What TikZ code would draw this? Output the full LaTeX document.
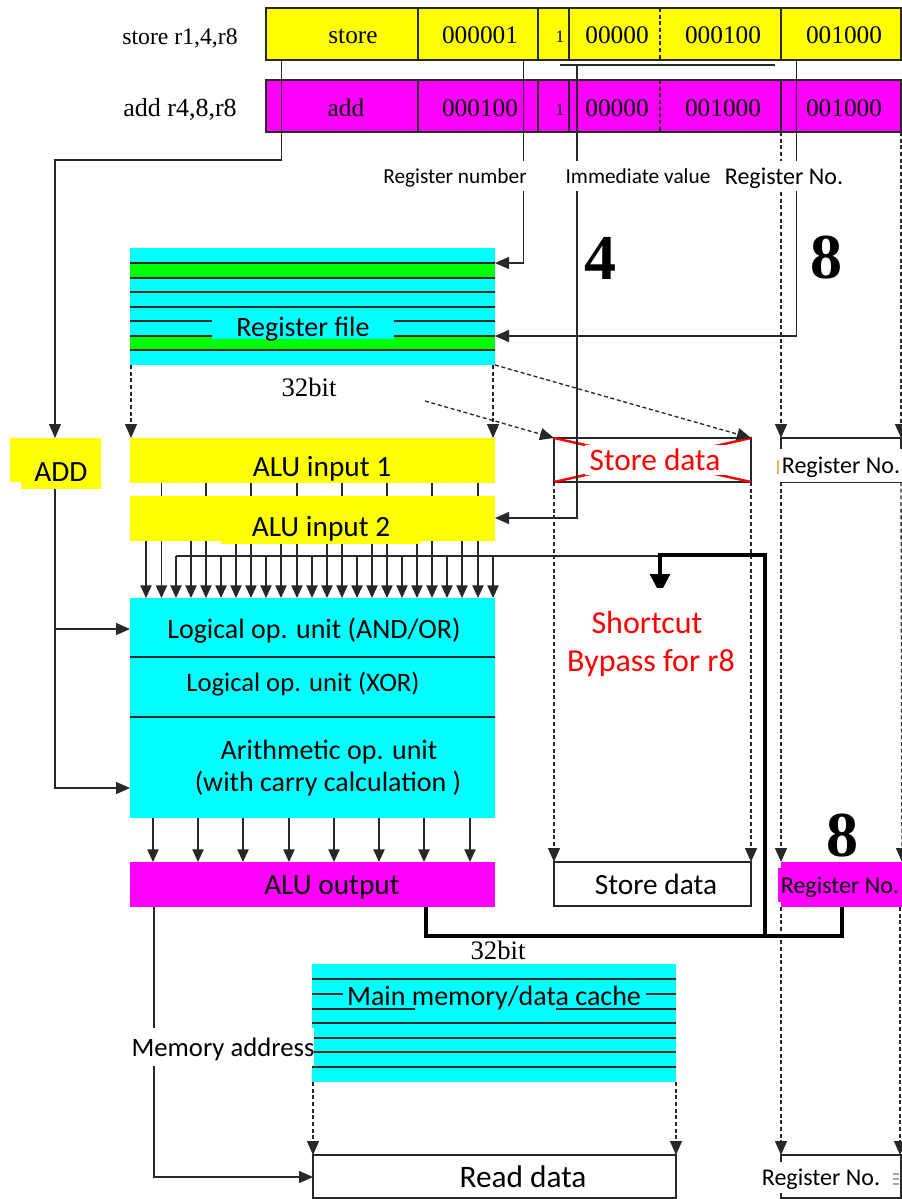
\documentclass[tikz,border=0pt]{standalone}
\usepackage{fontspec}
\setmainfont{Liberation Serif}
\newfontfamily\lblfont{Carlito}
\usetikzlibrary{arrows.meta, positioning}
\definecolor{DG}{RGB}{40,40,40}
\definecolor{CY}{RGB}{0,255,255}
\definecolor{GN}{RGB}{0,255,0}
\definecolor{YL}{RGB}{255,255,0}
\definecolor{MG}{RGB}{255,0,255}
\definecolor{RD}{RGB}{255,0,0}
\begin{document}
\begin{tikzpicture}[x=0.75pt, y=-0.75pt,
  pxbox/.style 2 args={minimum width=#1*0.75pt, minimum height=#2*0.75pt,
               inner sep=0pt, outer sep=0pt, anchor=north west},
  field/.style={draw=DG, line width=0.9pt},
  flagtxt/.style={font=\fontsize{13}{15}\selectfont, inner sep=0pt},
  serif/.style={font=\fontsize{#1}{#1}\selectfont, inner sep=0pt,
               text height=\dimexpr#1pt*53/100\relax, text depth=0pt},
  serif/.default=19,
  bigdigit/.style={font=\bfseries\fontsize{48}{50}\selectfont, inner sep=0pt},
  lbl/.style={font=\lblfont\fontsize{#1}{#1}\selectfont, inner sep=0pt,
               text height=\dimexpr#1pt*78/100\relax, text depth=\dimexpr#1pt*10/100\relax},
  lbl/.default=21,
  wire/.style={draw=DG, line width=1pt},
  arr/.style={wire, -{Triangle[length=10.5pt,width=9pt]}},
  busarr/.style={wire, -{Triangle[length=9.5pt,width=8.5pt]}},
  dasharr/.style={arr, dash pattern=on 3pt off 2pt},
  fatwire/.style={draw=black, line width=3.6pt}
]
\useasboundingbox (0,0) rectangle (902,1199);

% Instruction rows
\foreach \r/\col/\y in {st/YL/8,ad/MG/80}
  \foreach \n/\x/\w in {Op/266/152,Rs/418/120,Flag/538/31,Imm/569/212,Rd/781/120}
    { \node[pxbox={\w}{52}, field, fill=\col] (\r\n) at (\x,\y) {}; }
\node[serif=17.8] (stName) at (180,38) {store r1,4,r8};
\node[serif=19.5] (adName) at (180,110) {add r4,8,r8};
\foreach \r/\y/\a/\b/\c/\d in {st/37/store/000001/000100/001000,ad/110/add/000100/001000/001000}{
  \node[serif] (\r TxtOp) at (\ifnum\y=37 353\else 346\fi,\y) {\a};
  \node[serif] (\r TxtRs) at (480,\y) {\b};
  \node[flagtxt] (\r TxtFlag) at (560,\y) {1};
  \node[serif] (\r TxtA) at (617,\y) {00000};
  \node[serif] (\r TxtB) at (723,\y) {\c};
  \node[serif] (\r TxtRd) at (844,\y) {\d};
  \draw[wire, densely dashed] (\r Imm.north -| 660,0) -- (\r Imm.south -| 660,0);
}

% Register file
\node[pxbox={365}{117}, fill=CY] (regFile) at (130,248) {};
\foreach \y in {263,336} { \node[pxbox={365}{14}, fill=GN] (regG\y) at (130,\y) {}; }
\foreach \y in {263,278,292,307,321,336,350}
  { \draw[wire] (regFile.west |- 0,\y) -- (regFile.east |- 0,\y); }

% ALU inputs, units and output
\node[pxbox={91}{44}, fill=YL] (addBack) at (10,438) {};
\node[pxbox={365}{45}, fill=YL] (aluInA) at (130,438) {};
\node[pxbox={365}{45}, fill=YL] (aluInB) at (130,496) {};
\node[pxbox={365}{220}, fill=CY] (aluUnit) at (130,598) {};
\draw[wire] (aluUnit.west |- 0,657) -- (aluUnit.east |- 0,657);
\draw[wire] (aluUnit.west |- 0,717) -- (aluUnit.east |- 0,717);
\node[pxbox={365}{45}, fill=MG] (aluOut) at (130,862) {};

% Store and register latches
\node[pxbox={197}{44}, draw=DG, line width=0.9pt] (storeA) at (554,438) {};
\node[pxbox={197}{44}, draw=DG, line width=0.9pt] (storeB) at (554,862) {};
\draw[RD, line width=1.8pt] (storeA.north west) -- (storeA.south east);
\draw[RD, line width=1.8pt] (storeA.south west) -- (storeA.north east);
\node[pxbox={120}{44}, draw=DG, line width=0.9pt] (regNoA) at (781,438) {};
\node[pxbox={121}{45}, fill=MG] (regNoB) at (781,862) {};
\node[pxbox={120}{43}, draw=DG, line width=0.9pt] (regNoC) at (781,1155) {};

% Main memory
\node[pxbox={364}{118}, fill=CY] (memCache) at (312,964) {};
\foreach \y in {979,994,1009,1023,1038,1052,1067}
  { \draw[wire] (memCache.west |- 0,\y) -- (memCache.east |- 0,\y); }
\node[pxbox={141}{8}, fill=CY] (memPatch) at (415,1004) {};
\node[pxbox={363}{43}, draw=DG, line width=0.9pt] (readData) at (313,1155) {};

% Taps from the instruction rows
\coordinate (ctlTap) at (281.5,60);
\coordinate (rsTap) at (523.5,60);
\coordinate (rdTap) at (796.5,60);
\coordinate (immTap) at (577,65);
\coordinate (regWa) at (495,263);
\coordinate (regWb) at (495,336);
\coordinate (aluInC) at (495,518);
\draw[wire] (560,65) -- (775,65);
\draw[arr] (ctlTap) -- (281.5,160) -- (55,160) -- (addBack.north -| 55,0);
\draw[arr] (rsTap) |- (regWa);
\draw[arr] (rdTap) |- (regWb);
\draw[arr] (immTap) |- (aluInC);
\foreach \x/\a/\b/\c/\d in {781/adRd.south west/regNoA.north west/regNoA.south west/regNoB.north west,
                            900/adRd.south east/regNoA.north east/regNoA.south east/regNoB.north east}{
  \draw[dasharr] (\a) -- (\b);
  \draw[dasharr] (\c) -- (\d);
  \draw[dasharr] (\x,907) -- (\x,1155);
}

% Dashed paths around the register file
\draw[dasharr] (regFile.south west -| 131,0) -- (aluInA.north west -| 131,0);
\draw[dasharr] (regFile.south east -| 493,0) -- (aluInA.north east -| 493,0);
\draw[dasharr] (regFile.south east) -- (storeA.north east);
\coordinate (storeTail) at (425,401);
\draw[dasharr] (storeTail) -- (storeA.north west);
\draw[dasharr] (storeA.south west) -- (storeB.north west);
\draw[dasharr] (storeA.south east) -- (storeB.north east);

% Buses into and out of the ALU
\foreach \x in {161.5,206,251,297,342,387,432,478}
  { \draw[wire] (aluInA.south -| \x,0) -- (aluInB.north -| \x,0); }
\foreach \x in {146,161.5,191,206,236,251,281,297,327,342,372,387,417,432,462,478}
  { \draw[busarr] (aluInB.south -| \x,0) -- (aluUnit.north -| \x,0); }
\coordinate (bypassEnd) at (660,556);
\draw[wire] (176,556) -- (bypassEnd);
\foreach \x in {176,221,266,312,357,402,447,493}
  { \draw[busarr] (\x,556) -- (aluUnit.north -| \x,0); }
\foreach \x in {153,198,243,289,334,379,424,470}
  { \draw[busarr] (aluUnit.south -| \x,0) -- (aluOut.north -| \x,0); }
\coordinate (aluCa) at (130,629);
\coordinate (aluCb) at (130,788);

% Memory connections
\draw[dasharr] (memCache.south west -| 313,0) -- (readData.north west);
\draw[dasharr] (memCache.south east -| 676,0) -- (readData.north east);
\coordinate (readIn) at (313,1177);
\draw[arr] (aluOut.south -| 154,0) |- (readIn);

% Fat bypass
\draw[fatwire] (aluOut.south -| 426,0) -- (426,936) -| (regNoB.south -| 842,0);
\draw[fatwire] (765,936) -- (765,555) -| (660,577);
\begin{scope}
  \clip (640,570) rectangle (680,587);
  \draw[fatwire, -{Triangle[length=15pt,width=14.5pt]}] (660,570) -- (660,594);
\end{scope}

% Labels
\node[lbl=22, fill=YL, minimum width=80*0.75pt, minimum height=34*0.75pt] (addBox) at (61,472) {ADD};
\draw[arr] (addBox.south -| 55,0) |- (aluCb);
\draw[arr] (aluCa -| 55,0) -- (aluCa);
\node[lbl=21, fill=CY, minimum width=182*0.75pt, minimum height=22*0.75pt] (regTxt) at (303,327) {Register file};
\node[serif=20] (busA) at (309,389) {32bit};
\node[serif=20] (busB) at (498,952) {32bit};
\node[lbl=22] (inATxt) at (322,467) {ALU input 1};
\node[lbl=22, fill=YL, minimum width=200*0.75pt, minimum height=34*0.75pt] (inBTxt) at (321,527) {ALU input 2};
\node[lbl=21] (unitA) at (314,629) {Logical op. unit (AND/OR)};
\node[lbl=20] (unitB) at (303,682) {Logical op. unit (XOR)};
\node[lbl=21] (unitC) at (329,750) {Arithmetic op. unit};
\node[lbl=21] (unitD) at (328,782) {(with carry calculation )};
\node[lbl=22] (outTxt) at (332,885) {ALU output};
\node[lbl=16, fill=white, minimum height=30*0.75pt] (topA) at (455,176) {Register number};
\node[lbl=16, fill=white, minimum height=30*0.75pt] (topB) at (638,176) {Immediate value};
\node[lbl=18, fill=white, minimum height=30*0.75pt] (topC) at (784,176) {Register No.};
\node[bigdigit] (digA) at (600,258) {4};
\node[bigdigit] (digB) at (826,258) {8};
\node[bigdigit] (digC) at (842,836) {8};
\node[lbl=23.5, text=RD, fill=white, minimum width=140*0.75pt, minimum height=30*0.75pt] (storeTxtA) at (655,460) {Store data};
\node[lbl=22] (storeTxtB) at (656,885) {Store data};
\node[lbl=18, fill=white, minimum width=123*0.75pt, minimum height=33*0.75pt] (regTxtA) at (841,465) {Register No.};
\draw[orange!60, line width=0.8pt] (778,460) -- (778,474);
\node[lbl=18, fill=MG, minimum width=125*0.75pt, minimum height=34*0.75pt] (regTxtB) at (840,885) {Register No.};
\node[lbl=18, fill=white, minimum height=31*0.75pt] (regTxtC) at (821,1177) {Register No.};
\foreach \y in {1174,1179,1184} { \draw[gray!70, line width=0.8pt] (893,\y) -- (899,\y); }
\node[lbl=24, text=RD] (shortA) at (647,623) {Shortcut};
\node[lbl=24, text=RD] (shortB) at (651,661) {Bypass for r8};
\node[lbl=21, fill=CY, minimum width=303*0.75pt, minimum height=20*0.75pt] (memTxt) at (494,996) {Main memory/data cache};
\node[lbl=20, fill=white, minimum height=38*0.75pt] (memAddr) at (223,1047) {Memory address};
\node[lbl=23.5] (readTxt) at (523,1177) {Read data};
\end{tikzpicture}
\end{document}
